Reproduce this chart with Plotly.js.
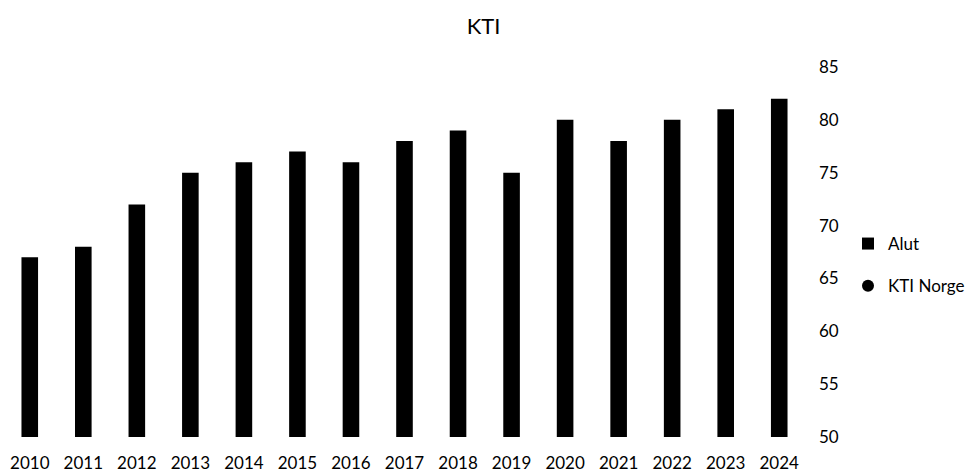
<!DOCTYPE html>
<html>
<head>
<meta charset="utf-8">
<script src="https://cdn.plot.ly/plotly-3.0.1.min.js"></script>
<style>html,body{margin:0;padding:0;background:#fff;}#chart{width:967px;height:473px;}</style>
</head>
<body>
<div id="chart"></div>
<script>
const years = ['2010','2011','2012','2013','2014','2015','2016','2017','2018','2019','2020','2021','2022','2023','2024'];
const alut = [67, 68, 72, 75, 76, 77, 76, 78, 79, 75, 80, 78, 80, 81, 82];
const ktiNorge = [null, null, null, null, null, null, null, null, null, null, null, null, null, null, null];
const yTicks = [50, 55, 60, 65, 70, 75, 80, 85];

const font = {family: 'Lato, "Open Sans", sans-serif', size: 17, color: '#000'};

const data = [
  {type: 'bar', name: 'Alut', x: years, y: alut, marker: {color: '#000'}, legendgroup: 'a'},
  {type: 'scatter', mode: 'markers', name: 'KTI Norge', x: years, y: ktiNorge,
   marker: {color: '#000', symbol: 'circle', size: 12}, legendgroup: 'b', showlegend: true}
];

const layout = {
  width: 967, height: 473,
  margin: {l: 3, r: 161, t: 67, b: 36, autoexpand: false},
  paper_bgcolor: '#fff', plot_bgcolor: '#fff',
  font: font,
  title: {text: 'KTI', x: 0.5, xanchor: 'center', y: 1 - 26/473, yref: 'container', yanchor: 'middle',
          font: {family: font.family, size: 22, color: '#000'}},
  bargap: 0.69,
  showlegend: true,
  legend: {xref: 'container', yref: 'container', x: 848/967, xanchor: 'left', y: 1 - 265/473, yanchor: 'middle',
           traceorder: 'grouped', tracegroupgap: 17,
           font: {family: font.family, size: 17, color: '#000'}, itemwidth: 30},
  xaxis: {type: 'category', range: [-0.5, years.length - 0.5], showgrid: false, zeroline: false, showline: false,
          ticks: '', tickfont: {size: 17}, ticklabelstandoff: 14, automargin: false},
  yaxis: {side: 'right', range: [50, 85], tickvals: yTicks, ticktext: yTicks.map(String), showgrid: false,
          zeroline: false, showline: false, ticks: '', ticklabelstandoff: 12, tickfont: {size: 17}, automargin: false}
};

Plotly.newPlot('chart', data, layout, {displayModeBar: false, staticPlot: true});
</script>
</body>
</html>
